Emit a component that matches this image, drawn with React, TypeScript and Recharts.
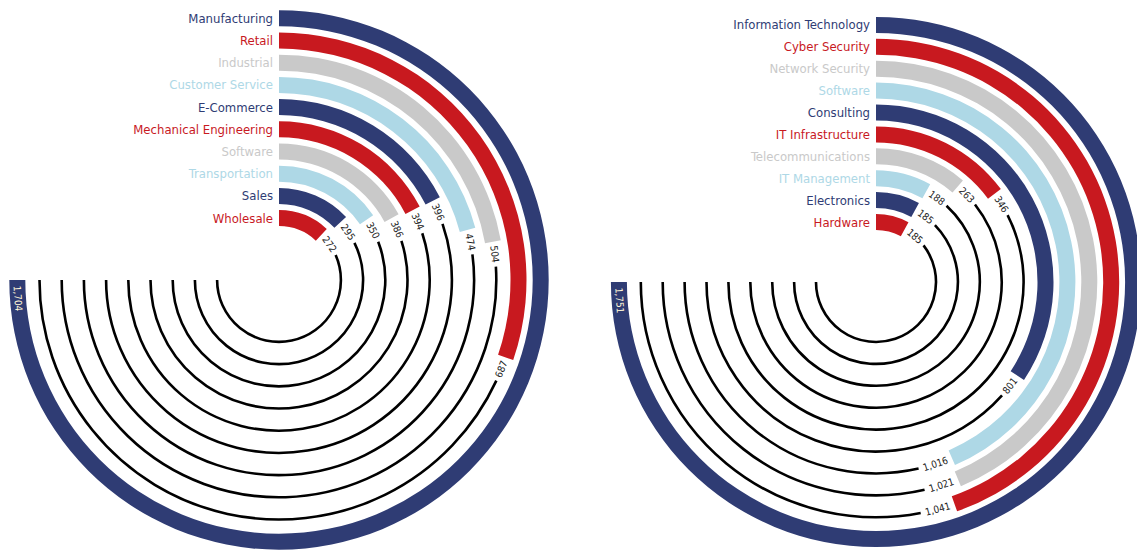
import { RadialBarChart, RadialBar, PolarAngleAxis, PolarRadiusAxis, Sector } from 'recharts'

const leftNames = ['Manufacturing', 'Retail', 'Industrial', 'Customer Service', 'E-Commerce', 'Mechanical Engineering', 'Software', 'Transportation', 'Sales', 'Wholesale']
const leftValues = [1704, 687, 504, 474, 396, 394, 386, 350, 295, 272]

const rightNames = ['Information Technology', 'Cyber Security', 'Network Security', 'Software', 'Consulting', 'IT Infrastructure', 'Telecommunications', 'IT Management', 'Electronics', 'Hardware']
const rightValues = [1751, 1041, 1021, 1016, 801, 346, 263, 188, 185, 185]

const palette = ['#2f3c74', '#c8191f', '#c9c9c9', '#aed8e6']

const FONT = "'Liberation Sans Narrow', 'DejaVu Sans Condensed', 'Noto Sans', sans-serif"
const START = 90
const END = -180
const RAD = Math.PI / 180

const pt = (cx: number, cy: number, r: number, a: number) => ({
  x: cx + r * Math.cos(-a * RAD),
  y: cy + r * Math.sin(-a * RAD),
})

function arcPath(cx: number, cy: number, r: number, a1: number, a2: number) {
  const p1 = pt(cx, cy, r, a1)
  const p2 = pt(cx, cy, r, a2)
  const large = a1 - a2 > 180 ? 1 : 0
  return `M${p1.x},${p1.y} A${r},${r} 0 ${large} 1 ${p2.x},${p2.y}`
}

// bar + thin black track + value label + category name
function RingBar(props: any) {
  const { cx, cy, innerRadius, outerRadius, startAngle, endAngle, payload } = props
  const r = (innerRadius + outerRadius) / 2
  const text = payload.value.toLocaleString('en-US')
  const textW = text.length * 5 + 2
  const isMax = Math.abs(endAngle - END) < 0.01

  let la: number
  if (isMax) la = END + (textW / 2 + 5) / r / RAD
  else la = endAngle - (textW / 2 + 4) / r / RAD
  const lineStart = endAngle - (textW + 8) / r / RAD

  const lp = pt(cx, cy, r, la)
  const theta = START - la
  const rot = theta <= 90 ? theta : theta - 180

  return (
    <g>
      {!isMax && lineStart > END && (
        <path d={arcPath(cx, cy, r, lineStart, END)} fill="none" stroke="#000" strokeWidth={2.6} />
      )}
      <Sector cx={cx} cy={cy} innerRadius={innerRadius} outerRadius={outerRadius} startAngle={startAngle} endAngle={endAngle} fill={payload.color} />
      <text
        x={lp.x}
        y={lp.y}
        transform={`rotate(${rot} ${lp.x} ${lp.y})`}
        textAnchor="middle"
        dominantBaseline="central"
        fontSize={10}
        fontFamily={FONT}
        fill={isMax ? '#fff6d8' : '#222'}
      >
        {text}
      </text>
      <text
        x={cx - 6}
        y={cy - r}
        textAnchor="end"
        dominantBaseline="central"
        fontSize={13}
        fontFamily={FONT}
        fill={payload.color}
      >
        {payload.name}
      </text>
    </g>
  )
}

interface RingProps {
  names: string[]
  values: number[]
  width: number
  height: number
  cx: number
  cy: number
  inner: number
  outer: number
  barSize: number
}

function Ring({ names, values, width, height, cx, cy, inner, outer, barSize }: RingProps) {
  const data = names.map((name, i) => ({ name, value: values[i], color: palette[i % 4] })).reverse()
  const max = Math.max(...values)
  return (
    <RadialBarChart
      width={width}
      height={height}
      data={data}
      cx={cx}
      cy={cy}
      innerRadius={inner}
      outerRadius={outer}
      startAngle={START}
      endAngle={END}
      barSize={barSize}
      margin={{ top: 0, right: 0, bottom: 0, left: 0 }}
    >
      <PolarAngleAxis type="number" domain={[0, max]} tick={false} axisLine={false} />
      <PolarRadiusAxis type="category" dataKey="name" tick={false} axisLine={false} tickLine={false} />
      <RadialBar dataKey="value" isAnimationActive={false} shape={RingBar} />
    </RadialBarChart>
  )
}

export default function App() {
  return (
    <div style={{ position: 'absolute', left: 0, top: 0, width: 1137, height: 550, background: '#fff' }}>
      <div style={{ position: 'absolute', left: 0, top: 0 }}>
        <Ring names={leftNames} values={leftValues} width={560} height={550} cx={279} cy={280} inner={50.9} outer={272.9} barSize={16} />
      </div>
      <div style={{ position: 'absolute', left: 560, top: 0 }}>
        <Ring names={rightNames} values={rightValues} width={577} height={550} cx={316} cy={282} inner={49} outer={268} barSize={16} />
      </div>
    </div>
  )
}
